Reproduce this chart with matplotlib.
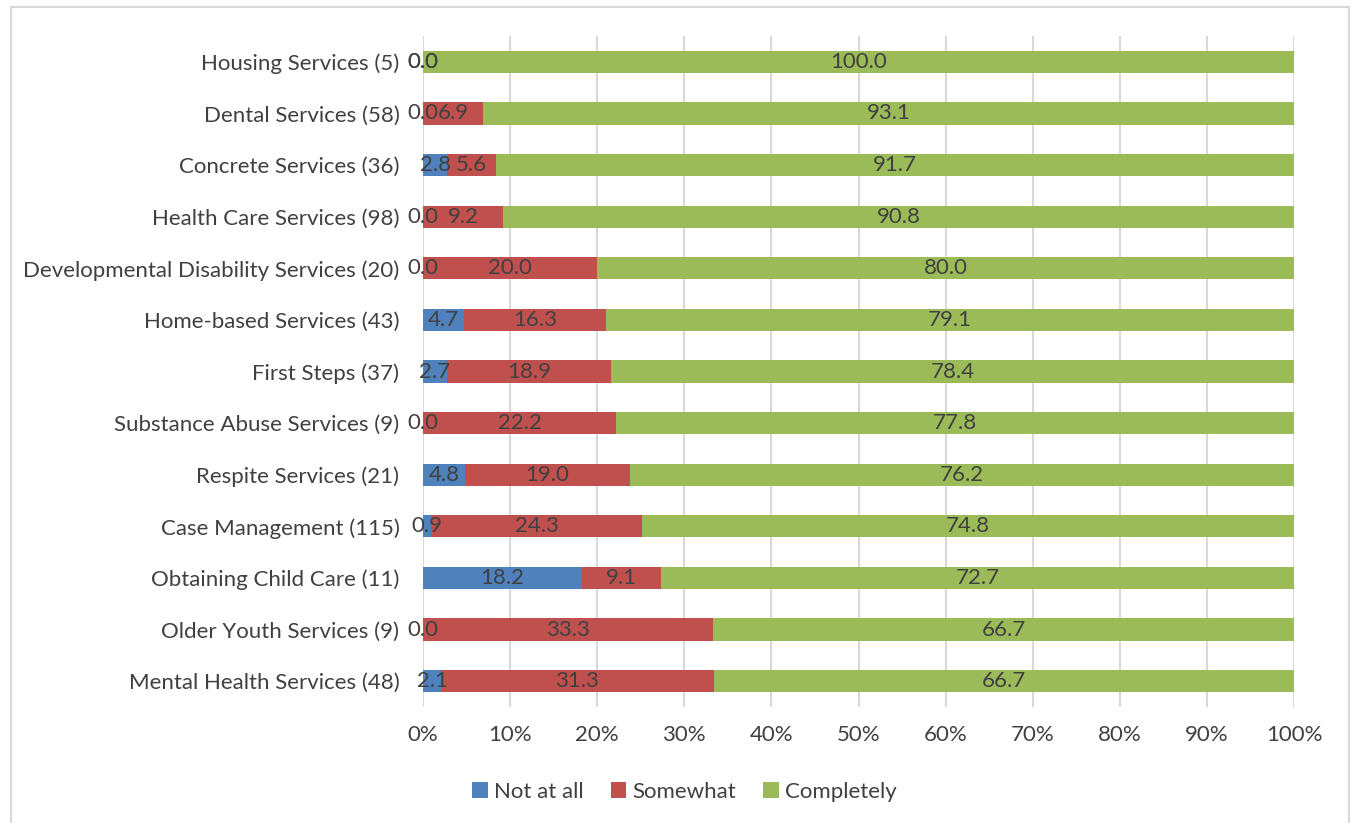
import matplotlib.pyplot as plt
from matplotlib.patches import Rectangle
from matplotlib.ticker import FuncFormatter
import numpy as np

plt.rcParams['font.family'] = ['Lato', 'DejaVu Sans']

# data, bottom row first
categories = [
    "Mental Health Services (48)",
    "Older Youth Services (9)",
    "Obtaining Child Care (11)",
    "Case Management (115)",
    "Respite Services (21)",
    "Substance Abuse Services (9)",
    "First Steps (37)",
    "Home-based Services (43)",
    "Developmental Disability Services (20)",
    "Health Care Services (98)",
    "Concrete Services (36)",
    "Dental Services (58)",
    "Housing Services (5)",
]
not_at_all = [2.1, 0.0, 18.2, 0.9, 4.8, 0.0, 2.7, 4.7, 0.0, 0.0, 2.8, 0.0, 0.0]
somewhat = [31.3, 33.3, 9.1, 24.3, 19.0, 22.2, 18.9, 16.3, 20.0, 9.2, 5.6, 6.9, 0.0]
completely = [66.7, 66.7, 72.7, 74.8, 76.2, 77.8, 78.4, 79.1, 80.0, 90.8, 91.7, 93.1, 100.0]

series = [("Not at all", not_at_all, "#4F81BD"),
          ("Somewhat", somewhat, "#C0504D"),
          ("Completely", completely, "#9BBB59")]

text_col = "#404040"

fig = plt.figure(figsize=(13.53, 8.23), dpi=100)
ax = fig.add_axes([423 / 1353, 1 - 707 / 823, (1294 - 423) / 1353, (707 - 36) / 823])

y = np.arange(len(categories))
totals = np.array(not_at_all) + np.array(somewhat) + np.array(completely)
left = np.zeros(len(categories))
for name, vals, col in series:
    w = np.array(vals) / totals * 100
    ax.barh(y, w, left=left, height=0.43, color=col, label=name, zorder=3)
    for yi, (l, wi, v) in enumerate(zip(left, w, vals)):
        ax.text(l + wi / 2, yi, f"{v:.1f}", ha="center", va="center",
                fontsize=16, color=text_col, zorder=4)
    left = left + w

ax.set_xlim(0, 100)
ax.set_ylim(-0.5, len(categories) - 0.5)
ax.set_xticks(np.arange(0, 101, 10))
ax.xaxis.set_major_formatter(FuncFormatter(lambda v, p: f"{int(v)}%"))
ax.set_yticks(y)
ax.set_yticklabels(categories)
ax.tick_params(axis="both", length=0, labelsize=16, colors=text_col)
ax.tick_params(axis="y", pad=17)
ax.tick_params(axis="x", pad=13)
ax.grid(axis="x", color="#D9D9D9", linewidth=1.5, zorder=0)
for s in ax.spines.values():
    s.set_visible(False)

# legend is centred on the whole chart, not on the plot area
fig.legend(loc="center", bbox_to_anchor=(0.506, 1 - 792 / 823), ncol=3, frameon=False,
           fontsize=16, labelcolor=text_col, handlelength=0.7, handleheight=0.7,
           handletextpad=0.3, columnspacing=1.2)

fig.patches.append(Rectangle((11 / 1353, -0.01), (1349 - 11) / 1353, 1 - 7 / 823 + 0.01,
                             transform=fig.transFigure, fill=False,
                             edgecolor="#D9D9D9", linewidth=1.5))

plt.savefig("out.png", dpi=100)
